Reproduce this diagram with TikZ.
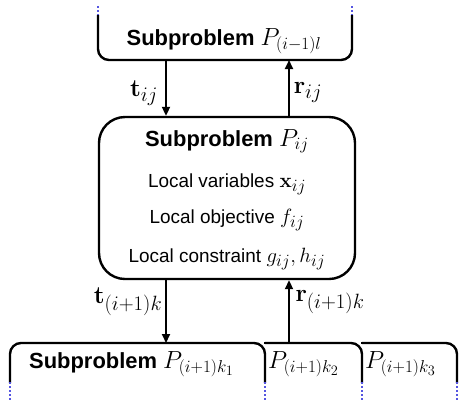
\documentclass[tikz,border=0pt]{standalone}
\usepackage[no-math]{fontspec}
\setmainfont{Liberation Sans}
\DeclareMathSizes{22}{24}{19}{14}
\DeclareMathSizes{27}{27}{20}{15}
\DeclareMathSizes{19}{21}{17}{13}
\usetikzlibrary{arrows.meta}
\definecolor{dotblue}{RGB}{85,85,225}
\tikzset{
  frame/.style={line width=2.4bp, rounded corners=11bp},
  dots/.style={dotblue, line width=2.4bp, dash pattern=on 2bp off 2bp},
  arr/.style={line width=2bp, -{Triangle[length=9bp,width=8bp]}},
  title/.style={font=\fontsize{22}{26}\selectfont\bfseries, inner sep=0pt},
  body/.style={font=\fontsize{19}{23}\selectfont, inner sep=0pt},
  lbl/.style={font=\fontsize{27}{30}\selectfont, inner sep=0pt},
  midbox/.style={draw, line width=2.4bp, rounded corners=26bp, minimum width=256bp, minimum height=162bp}
}
\begin{document}
\begin{tikzpicture}[x=1bp,y=-1bp]
\path[use as bounding box] (0,0) rectangle (462,402);
% top subproblem
\draw[dots] (98,6) -- (98,16);
\draw[dots] (352,6) -- (352,16);
\draw[frame] (98,15) -- (98,60) -- (352,60) -- (352,15);
\node[title, anchor=base] (top) at (224,45) {Subproblem \normalfont$P_{(i-1)l}$};
\coordinate (tA) at (166,60);
\coordinate (tB) at (289,60);
% middle box
\node[midbox] (mid) at (227,198) {};
\node[title, anchor=base] (m1) at (227,146) {Subproblem \normalfont$P_{ij}$};
\node[body, anchor=base] (m2) at (227,187) {Local variables $\mathbf{x}_{ij}$};
\node[body, anchor=base] (m3) at (227,223) {Local objective $f_{ij}$};
\node[body, anchor=base] (m4) at (227,262) {Local constraint $g_{ij}, h_{ij}$};
% arrows top
\draw[arr] (tA) -- (tA |- mid.north);
\draw[arr] (tB |- mid.north) -- (tB);
\node[lbl] (lt) at (144,93) {$\mathbf{t}_{ij}$};
\node[lbl] (lr) at (308,92) {$\mathbf{r}_{ij}$};
% bottom subproblems
\draw[frame] (10,383) -- (10,343) -- (265,343) -- (265,383);
\draw[frame] (265,343) -- (362,343) -- (362,383);
\draw[line width=2.4bp] (264,343) -- (275,343);
\draw[frame] (362,343) -- (457,343) -- (457,383);
\draw[line width=2.4bp] (361,343) -- (372,343);
\draw[dots] (10,382) -- (10,400);
\draw[dots] (265,382) -- (265,400);
\draw[dots] (362,382) -- (362,400);
\draw[dots] (457,382) -- (457,400);
\coordinate (bA) at (166,343);
\coordinate (bB) at (289,343);
\draw[arr] (bA |- mid.south) -- (bA);
\draw[arr] (bB) -- (bB |- mid.south);
\node[lbl] (blt) at (128,302) {$\mathbf{t}_{(i+1)k}$};
\node[lbl] (blr) at (330,302) {$\mathbf{r}_{(i+1)k}$};
\node[title, anchor=base west] (b1) at (29,368) {Subproblem \normalfont$P_{(i+1)k_1}$};
\node[title, anchor=base west] (b2) at (268,368) {\normalfont$P_{(i+1)k_2}$};
\node[title, anchor=base west] (b3) at (365,368) {\normalfont$P_{(i+1)k_3}$};
\end{tikzpicture}
\end{document}
